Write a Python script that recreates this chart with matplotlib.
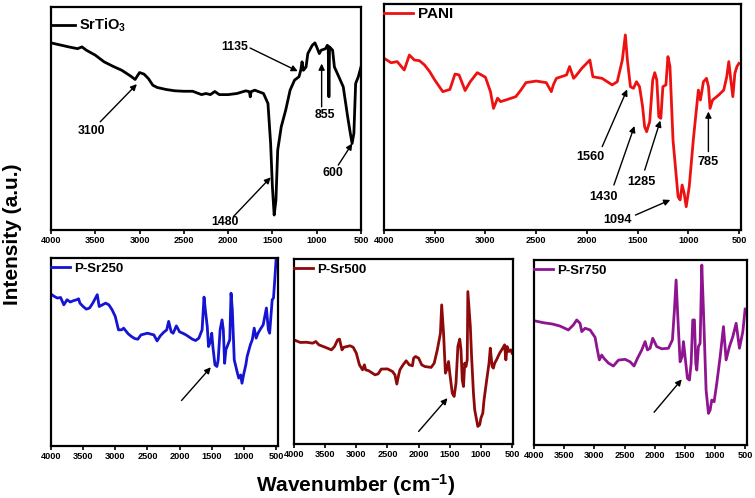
import matplotlib
matplotlib.use("Agg")
import matplotlib.pyplot as plt

plt.rcParams['font.family'] = ['Liberation Sans', 'DejaVu Sans']
plt.rcParams['font.weight'] = 'bold'
plt.rcParams['mathtext.fontset'] = 'custom'
plt.rcParams['mathtext.rm'] = 'Liberation Sans:bold'
plt.rcParams['mathtext.bf'] = 'Liberation Sans:bold'
plt.rcParams['mathtext.it'] = 'Liberation Sans:bold'
plt.rcParams['mathtext.default'] = 'bf'

# ---------------- data ----------------
srtio3_wn = [4000, 3800, 3700, 3650, 3600, 3500, 3400, 3300, 3200, 3100,
             3050, 3000, 2950, 2900, 2850, 2800, 2700, 2600, 2500, 2400,
             2300, 2250, 2200, 2150, 2100, 2000, 1900, 1800, 1760, 1750,
             1740, 1700, 1600, 1550, 1520, 1500, 1480, 1460, 1440, 1400,
             1350, 1300, 1250, 1200, 1180, 1165, 1150, 1120, 1100, 1050,
             1020, 1000, 970, 950, 900, 880, 870, 862, 855, 820,
             800, 750, 700, 650, 620, 600, 580, 560, 530, 500]
srtio3_int = [83.9, 82.1, 81.3, 82.1, 80.6, 78.4, 75.4, 73.4, 71.6, 69.0,
              67.5, 70.6, 69.9, 67.9, 64.9, 63.9, 63.0, 62.4, 62.2, 62.2,
              60.7, 61.2, 60.7, 62.1, 60.7, 60.7, 61.2, 62.4, 62.0, 59.7,
              62.0, 62.7, 61.2, 56.7, 38.8, 19.4, 6.7, 13.4, 35.8, 46.3,
              53.7, 62.7, 67.2, 68.7, 71.6, 75.4, 71.6, 73.1, 79.1, 82.8,
              83.9, 82.1, 79.1, 80.6, 81.3, 82.8, 82.4, 59.7, 82.1, 80.6,
              73.1, 68.7, 64.2, 50.7, 43.3, 38.8, 43.3, 65.7, 68.7, 73.1]

pani_wn = [4000, 3930, 3870, 3800, 3750, 3700, 3650, 3600, 3550, 3500,
           3420, 3350, 3300, 3260, 3200, 3150, 3080, 3000, 2950, 2920,
           2880, 2850, 2800, 2700, 2650, 2600, 2500, 2400, 2350, 2330,
           2300, 2200, 2170, 2130, 2100, 2050, 1970, 1940, 1850, 1750,
           1700, 1650, 1620, 1600, 1570, 1540, 1510, 1480, 1450, 1430,
           1410, 1380, 1350, 1330, 1310, 1290, 1270, 1250, 1220, 1200,
           1180, 1150, 1100, 1080, 1060, 1040, 1020, 990, 950, 900,
           880, 850, 820, 800, 785, 760, 700, 650, 620, 600,
           580, 560, 540, 520, 500]
pani_int = [76.0, 74.0, 74.5, 70.8, 77.4, 75.2, 74.9, 73.0, 70.1, 66.4,
            61.2, 62.2, 69.0, 68.6, 61.7, 65.6, 69.6, 67.6, 61.2, 53.8,
            58.3, 56.8, 57.5, 59.0, 61.9, 65.2, 65.9, 65.2, 61.2, 64.2,
            67.1, 68.6, 72.3, 67.1, 68.6, 71.5, 75.2, 67.8, 67.1, 64.2,
            65.6, 75.2, 86.3, 75.2, 63.4, 62.7, 65.6, 63.4, 54.6, 45.7,
            43.5, 47.9, 66.4, 69.6, 66.4, 50.1, 49.4, 63.4, 64.2, 76.7,
            72.3, 39.8, 14.7, 13.3, 19.9, 16.2, 10.3, 19.2, 39.8, 61.9,
            57.5, 65.6, 67.1, 63.4, 53.8, 57.5, 59.7, 61.9, 67.8, 74.5,
            66.4, 59.0, 69.3, 72.3, 73.7]

psr250_wn = [4000, 3950, 3900, 3850, 3800, 3750, 3700, 3650, 3600, 3570,
             3550, 3500, 3450, 3400, 3350, 3280, 3250, 3200, 3150, 3100,
             3050, 3000, 2950, 2900, 2870, 2800, 2750, 2700, 2650, 2600,
             2500, 2400, 2350, 2300, 2250, 2200, 2170, 2130, 2100, 2050,
             2000, 1950, 1900, 1800, 1750, 1700, 1650, 1620, 1600, 1570,
             1550, 1520, 1500, 1480, 1450, 1420, 1400, 1370, 1340, 1320,
             1300, 1280, 1250, 1220, 1200, 1180, 1150, 1100, 1080, 1050,
             1030, 1000, 970, 950, 900, 870, 840, 810, 780, 750,
             700, 650, 620, 600, 560, 540, 520, 500]
psr250_int = [80.8, 79.6, 78.7, 79.0, 75.1, 77.8, 76.6, 77.3, 77.8, 78.3,
              76.0, 74.2, 72.8, 73.4, 76.0, 80.5, 74.2, 75.1, 76.0, 75.1,
              72.5, 68.9, 61.8, 61.8, 62.7, 59.7, 58.3, 57.2, 56.8, 59.1,
              60.0, 59.1, 55.9, 58.6, 60.4, 61.8, 66.3, 60.7, 60.0, 63.9,
              60.7, 60.0, 59.1, 56.8, 56.1, 57.4, 61.8, 79.2, 72.5, 63.6,
              52.9, 55.6, 60.0, 52.0, 43.2, 42.3, 45.8, 61.8, 67.1, 61.8,
              44.0, 51.2, 53.8, 56.5, 81.3, 72.5, 45.8, 38.7, 36.1, 37.8,
              33.4, 38.7, 43.2, 47.6, 53.8, 56.5, 62.7, 57.4, 60.0, 61.8,
              64.5, 73.4, 61.8, 60.0, 77.8, 78.7, 88.5, 99.1]

psr500_wn = [4000, 3900, 3800, 3700, 3650, 3600, 3500, 3400, 3350, 3300,
             3270, 3230, 3200, 3100, 3050, 3000, 2950, 2900, 2870, 2850,
             2800, 2700, 2650, 2600, 2500, 2420, 2380, 2350, 2320, 2300,
             2250, 2200, 2150, 2100, 2080, 2050, 2000, 1950, 1900, 1800,
             1750, 1700, 1650, 1630, 1600, 1570, 1550, 1520, 1500, 1460,
             1430, 1400, 1370, 1340, 1320, 1300, 1280, 1260, 1240, 1220,
             1210, 1170, 1150, 1120, 1100, 1070, 1050, 1020, 1000, 970,
             950, 900, 870, 850, 820, 800, 780, 750, 700, 650,
             620, 600, 580, 550, 520, 500]
psr500_int = [56.3, 54.9, 55.0, 54.5, 55.4, 53.6, 52.3, 50.9, 52.7, 56.3,
              56.7, 50.9, 52.3, 53.1, 52.3, 49.1, 42.8, 40.1, 42.8, 40.1,
              39.6, 37.4, 37.9, 40.5, 40.6, 39.2, 37.4, 32.4, 37.4, 40.1,
              42.8, 45.0, 42.8, 42.3, 46.4, 47.3, 46.4, 42.8, 41.9, 41.4,
              43.7, 50.9, 59.9, 75.2, 59.9, 38.3, 40.1, 44.6, 38.3, 27.5,
              25.7, 32.9, 52.7, 56.7, 50.9, 34.7, 31.1, 43.7, 41.9, 45.5,
              82.4, 63.5, 47.3, 27.5, 18.5, 13.1, 9.5, 10.4, 14.0, 16.7,
              23.9, 36.5, 43.7, 51.8, 41.9, 41.0, 43.7, 45.5, 49.1, 51.8,
              53.6, 45.5, 52.7, 50.0, 50.9, 49.1]

psr750_wn = [4000, 3845, 3696, 3569, 3431, 3348, 3292, 3237, 3209, 3154,
             3071, 2988, 2950, 2917, 2878, 2839, 2767, 2684, 2601, 2491,
             2408, 2342, 2286, 2214, 2159, 2120, 2076, 2032, 1966, 1883,
             1772, 1706, 1673, 1645, 1617, 1579, 1546, 1523, 1496, 1457,
             1424, 1396, 1369, 1341, 1319, 1302, 1275, 1247, 1219, 1192,
             1148, 1109, 1081, 1054, 1015, 971, 915, 860, 816, 761,
             705, 650, 595, 539, 501]
psr750_int = [67.2, 66.1, 65.4, 64.3, 62.2, 64.9, 67.6, 65.8, 61.3, 63.1,
              62.2, 58.2, 51.4, 46.0, 48.6, 46.8, 44.3, 42.7, 45.9, 46.3,
              45.0, 42.7, 46.8, 51.4, 55.9, 51.4, 52.3, 57.7, 53.2, 52.0,
              52.3, 56.8, 72.9, 89.2, 69.4, 45.0, 47.7, 55.9, 47.7, 36.0,
              35.1, 44.1, 67.6, 67.6, 44.1, 40.5, 53.2, 55.0, 97.3, 73.0,
              29.7, 17.1, 18.9, 24.3, 23.4, 33.3, 47.7, 64.0, 46.0, 53.2,
              58.6, 65.8, 52.3, 61.3, 73.5]

tick_values = [4000, 3500, 3000, 2500, 2000, 1500, 1000, 500]
tick_labels = ['4000', '3500', '3000', '2500', '2000', '1500', '1000', '500']

# ---------------- figure ----------------
fig = plt.figure(figsize=(7.55, 4.98), dpi=100)

panels = [
    ([0.0675, 0.5382, 0.4106, 0.4478], srtio3_wn, srtio3_int, '#000000', 'SrTiO$_3$', 500, 10.5, 1.65, 0.955),
    ([0.5086, 0.5382, 0.4728, 0.4538], pani_wn, pani_int, '#ee1111', 'PANI', 480, 11, 1.9, 0.985),
    ([0.0675, 0.1044, 0.3007, 0.3775], psr250_wn, psr250_int, '#1414d2', 'P-Sr250', 470, 9.5, 1.45, 0.975),
    ([0.3894, 0.1084, 0.2901, 0.3715], psr500_wn, psr500_int, '#8e0a0a', 'P-Sr500', 485, 9.5, 1.45, 0.975),
    ([0.7073, 0.1064, 0.2821, 0.3715], psr750_wn, psr750_int, '#8e1490', 'P-Sr750', 470, 9.5, 1.45, 0.975),
]

axes = []
for rect, wn, inten, color, label, xr, lfs, hl, ly in panels:
    ax = fig.add_axes(rect)
    ax.plot(wn, inten, color=color, lw=2.0, label=label,
            solid_joinstyle='round')
    ax.set_xlim(4000, xr)
    ax.set_ylim(0, 100)
    ax.set_xticks(tick_values)
    ax.set_xticklabels(tick_labels)
    ax.set_yticks([])
    for s in ax.spines.values():
        s.set_linewidth(1.6)
    ax.tick_params(axis='x', direction='out', length=3, width=1.2, pad=1.5,
                   labelsize=6.6)
    for t in ax.get_xticklabels():
        t.set_fontweight('bold')
    ax.legend(loc='upper left', bbox_to_anchor=(0.0, ly), frameon=False,
              borderaxespad=0.0, borderpad=0.0, handlelength=hl,
              handletextpad=0.3, prop={'weight': 'bold', 'size': lfs})
    axes.append(ax)

ax0, ax1, ax2, ax3, ax4 = axes

arrow = dict(arrowstyle='-|>', color='black', lw=1.0, mutation_scale=9,
             shrinkA=0, shrinkB=0)

# SrTiO3 annotations
ax0.annotate('', xy=(3030, 65.4), xytext=(3444, 48.5), arrowprops=arrow)
ax0.text(3538, 44.3, '3100', fontsize=8.8, fontweight='bold', ha='center', va='center')
ax0.annotate('', xy=(1519, 23.6), xytext=(1940, 6.0), arrowprops=arrow)
ax0.text(2034, 3.7, '1480', fontsize=8.8, fontweight='bold', ha='center', va='center')
ax0.annotate('', xy=(1214, 71.2), xytext=(1752, 81.6), arrowprops=arrow)
ax0.text(1921, 82.1, '1135', fontsize=8.8, fontweight='bold', ha='center', va='center')
ax0.annotate('', xy=(944, 74.6), xytext=(944, 55.2), arrowprops=arrow)
ax0.text(906, 51.5, '855', fontsize=8.8, fontweight='bold', ha='center', va='center')
ax0.annotate('', xy=(598, 38.8), xytext=(756, 29.1), arrowprops=arrow)
ax0.text(812, 25.4, '600', fontsize=8.8, fontweight='bold', ha='center', va='center')

# PANI annotations
ax1.annotate('', xy=(1602, 62.2), xytext=(1848, 36.9), arrowprops=arrow)
ax1.text(1962, 32.4, '1560', fontsize=9.2, fontweight='bold', ha='center', va='center')
ax1.annotate('', xy=(1530, 46.0), xytext=(1733, 19.9), arrowprops=arrow)
ax1.text(1831, 14.7, '1430', fontsize=9.2, fontweight='bold', ha='center', va='center')
ax1.annotate('', xy=(1275, 48.4), xytext=(1429, 26.5), arrowprops=arrow)
ax1.text(1462, 21.4, '1285', fontsize=9.2, fontweight='bold', ha='center', va='center')
ax1.annotate('', xy=(1177, 13.3), xytext=(1520, 6.6), arrowprops=arrow)
ax1.text(1700, 4.4, '1094', fontsize=9.2, fontweight='bold', ha='center', va='center')
ax1.annotate('', xy=(801, 52.4), xytext=(801, 34.7), arrowprops=arrow)
ax1.text(801, 30.2, '785', fontsize=9.2, fontweight='bold', ha='center', va='center')

# bottom panel arrows
ax2.annotate('', xy=(1514, 41.9), xytext=(1970, 24.2), arrowprops=arrow)
ax3.annotate('', xy=(1537, 24.8), xytext=(2000, 6.8), arrowprops=arrow)
ax4.annotate('', xy=(1551, 35.5), xytext=(2010, 17.7), arrowprops=arrow)

fig.text(0.016, 0.53, 'Intensity (a.u.)', rotation=90, fontsize=15,
         fontweight='bold', ha='center', va='center')
fig.text(0.4715, 0.026, 'Wavenumber (cm$^{-1}$)', fontsize=15,
         fontweight='bold', ha='center', va='center')

fig.savefig('out.png', dpi=100)
